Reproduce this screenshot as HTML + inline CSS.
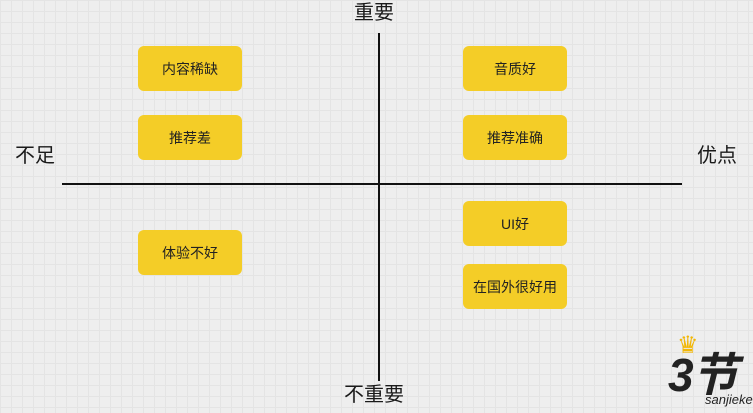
<!DOCTYPE html>
<html><head><meta charset="utf-8"><style>
body{margin:0;width:753px;height:413px;overflow:hidden;background:#eeeeee;
background-image:linear-gradient(#e4e4e4 1px,transparent 1px),linear-gradient(90deg,#e4e4e4 1px,transparent 1px);background-size:11px 11px;
font-family:"Liberation Sans","Noto Sans CJK SC",sans-serif;position:relative}
.b{position:absolute;width:104px;height:45px;background:#f4cd27;border-radius:6px;display:flex;align-items:center;justify-content:center;font-size:14px;color:#222}
.t{position:absolute;font-size:20px;color:#1a1a1a;line-height:1}
.l{position:absolute;background:#111}
</style></head><body>
<div class="l" style="left:378px;top:33px;width:2px;height:348px"></div>
<div class="l" style="left:62px;top:183px;width:620px;height:2px"></div>
<div class="t" style="left:354px;top:3px">重要</div>
<div class="t" style="left:344px;top:385px">不重要</div>
<div class="t" style="left:15px;top:146px">不足</div>
<div class="t" style="left:697px;top:146px">优点</div>
<div class="b" style="left:138px;top:46px">内容稀缺</div>
<div class="b" style="left:138px;top:115px">推荐差</div>
<div class="b" style="left:138px;top:230px">体验不好</div>
<div class="b" style="left:463px;top:46px">音质好</div>
<div class="b" style="left:463px;top:115px">推荐准确</div>
<div class="b" style="left:463px;top:201px">UI好</div>
<div class="b" style="left:463px;top:264px">在国外很好用</div>
<div style="position:absolute;left:677px;top:334px;color:#f2b705;font-size:24px;line-height:1">♛</div>
<div style="position:absolute;left:668px;top:352px;font-size:46px;font-weight:bold;font-style:italic;color:#222;line-height:1;letter-spacing:-2px">3节</div>
<div style="position:absolute;left:705px;top:392px;font-size:13px;font-style:italic;color:#222">sanjieke.</div>
</body></html>
